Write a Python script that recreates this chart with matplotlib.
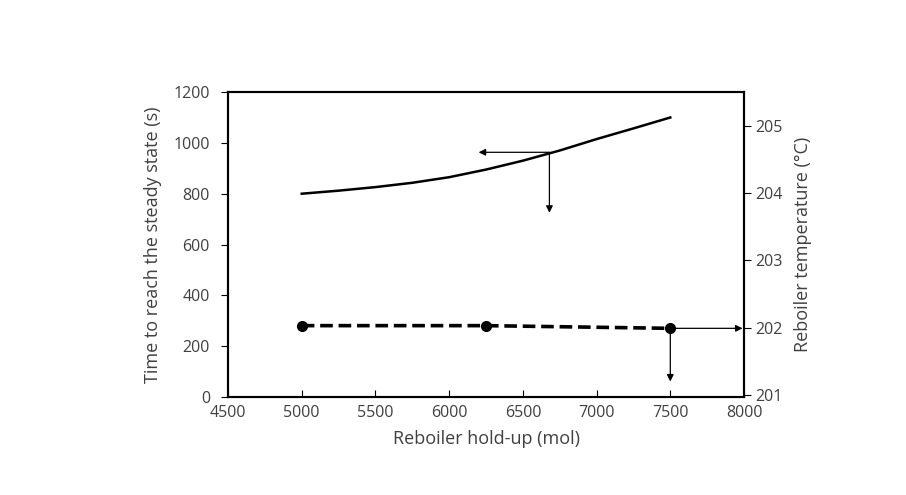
import matplotlib
matplotlib.use('Agg')
import matplotlib.pyplot as plt

plt.rcParams['font.family'] = ['Open Sans', 'DejaVu Sans']

# time to reach steady state (left axis)
holdup_t = [5000, 5250, 5500, 5750, 6000, 6250, 6500, 6750, 7000, 7250, 7500]
time_ss = [800, 812, 826, 843, 865, 895, 930, 970, 1015, 1057, 1100]

# reboiler temperature (right axis)
holdup_T = [5000, 6250, 7500]
temp_reb = [202.03, 202.03, 201.99]

xticks = [4500, 5000, 5500, 6000, 6500, 7000, 7500, 8000]
yticks_left = [0, 200, 400, 600, 800, 1000, 1200]
yticks_right = [201, 202, 203, 204, 205]

txt = '#404040'

fig = plt.figure(figsize=(9.06, 4.95), dpi=100)
ax = fig.add_axes([0.2517, 0.198, 0.5695, 0.616])
ax2 = ax.twinx()

ax.plot(holdup_t, time_ss, color='black', lw=1.8)
ax2.plot(holdup_T, temp_reb, color='black', lw=2.6, ls=(0, (3.5, 1.6)),
         marker='o', ms=7)

ax.set_xlim(4500, 8000)
ax.set_ylim(0, 1200)
ax2.set_ylim(200.97, 205.5)
ax.set_xticks(xticks)
ax.set_yticks(yticks_left)
ax2.set_yticks(yticks_right)

ax.set_xlabel('Reboiler hold-up (mol)', fontsize=13, color=txt, labelpad=6)
ax.set_ylabel('Time to reach the steady state (s)', fontsize=13, color=txt, labelpad=8)
ax2.set_ylabel('Reboiler temperature (\u00b0C)', fontsize=13, color=txt, labelpad=8)

ax.tick_params(axis='x', direction='in', length=5, labelsize=11.5, colors='black',
               labelcolor=txt, pad=6)
ax.tick_params(axis='y', direction='out', length=5, labelsize=11.5, colors='black',
               labelcolor=txt, pad=8)
ax2.tick_params(axis='y', direction='out', length=5, labelsize=11.5, colors='black',
                labelcolor=txt, pad=3)
for a in (ax, ax2):
    for s in a.spines.values():
        s.set_linewidth(1.5)

# arrows pointing to the axis each curve belongs to
ap = dict(arrowstyle='-|>', color='black', lw=0.9, mutation_scale=10, shrinkA=0, shrinkB=0)
ax.annotate('', xy=(6200, 963), xytext=(6680, 963), arrowprops=ap)
ax.annotate('', xy=(6680, 725), xytext=(6680, 963), arrowprops=ap)
ax2.annotate('', xy=(7990, 201.99), xytext=(7500, 201.99), arrowprops=ap)
ax2.annotate('', xy=(7500, 201.2), xytext=(7500, 201.99), arrowprops=ap)

fig.savefig('out.png', dpi=100)
